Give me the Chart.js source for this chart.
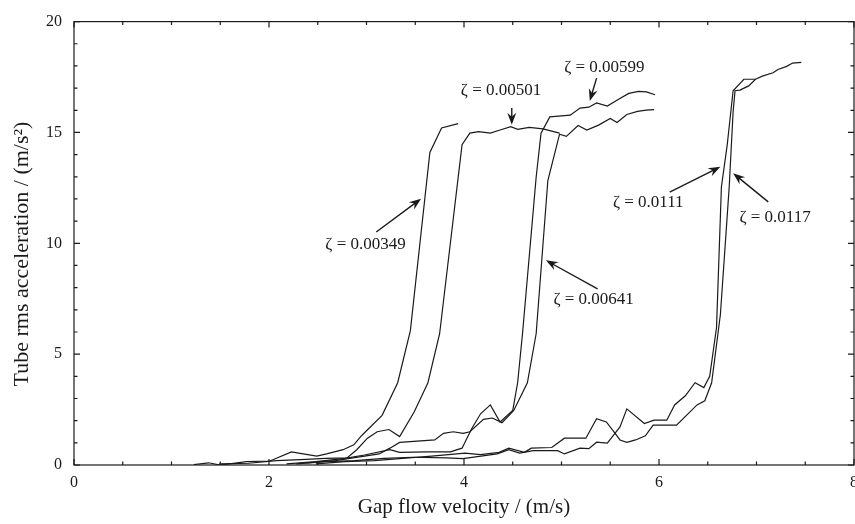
<!DOCTYPE html>
<html>
<head>
<meta charset="utf-8">
<script src="https://cdn.jsdelivr.net/npm/chart.js@4.4.1/dist/chart.umd.min.js"></script>
<style>
  body { margin: 0; background: #fff; }
  #wrap { width: 855px; height: 524px; }
</style>
</head>
<body>
<div id="wrap"><canvas id="accChart" width="855" height="524"></canvas></div>
<script>
// damping ratio of each run
const zetaLabels = ['0.00349', '0.00501', '0.00599', '0.00641', '0.0111', '0.0117'];

// gap flow velocity (m/s) and rms acceleration (m/s^2)
const velA = [1.23, 1.38, 1.50, 1.77, 2.01, 2.23, 2.35, 2.49, 2.59, 2.76, 2.87, 2.94, 2.99, 3.16, 3.32, 3.45, 3.65, 3.77, 3.94];
const accA = [0.02, 0.10, 0.00, 0.15, 0.18, 0.59, 0.50, 0.40, 0.50, 0.69, 0.91, 1.28, 1.50, 2.24, 3.71, 6.06, 14.1, 15.2, 15.4];

const velB = [1.49, 1.79, 2.08, 2.38, 2.58, 2.80, 2.90, 3.01, 3.11, 3.23, 3.34, 3.49, 3.63, 3.75, 3.98, 4.06, 4.15, 4.27, 4.37, 4.48, 4.55, 4.67, 4.81, 4.98];
const accB = [0.05, 0.08, 0.20, 0.25, 0.30, 0.32, 0.69, 1.21, 1.50, 1.60, 1.28, 2.40, 3.71, 5.92, 14.45, 14.97, 15.04, 14.97, 15.11, 15.26, 15.14, 15.23, 15.16, 14.97];

const velC = [2.18, 2.48, 2.78, 2.98, 3.24, 3.34, 3.62, 3.86, 3.98, 4.08, 4.17, 4.27, 4.37, 4.50, 4.55, 4.60, 4.74, 4.79, 4.88, 5.00, 5.09, 5.19, 5.28, 5.36, 5.47, 5.59, 5.69, 5.79, 5.87, 5.96];
const accC = [0.05, 0.15, 0.30, 0.45, 0.69, 0.57, 0.59, 0.59, 0.76, 1.65, 2.31, 2.71, 1.94, 2.46, 3.71, 5.92, 12.98, 14.97, 15.70, 15.75, 15.78, 16.10, 16.14, 16.33, 16.19, 16.51, 16.76, 16.85, 16.83, 16.70];

const velD = [2.38, 2.68, 2.98, 3.13, 3.24, 3.34, 3.52, 3.70, 3.79, 3.89, 3.99, 4.06, 4.20, 4.29, 4.39, 4.51, 4.65, 4.74, 4.86, 4.98, 5.05, 5.17, 5.26, 5.38, 5.50, 5.57, 5.67, 5.78, 5.87, 5.95];
const accD = [0.10, 0.20, 0.40, 0.50, 0.76, 1.02, 1.08, 1.13, 1.43, 1.50, 1.43, 1.50, 2.06, 2.12, 1.91, 2.46, 3.71, 5.92, 12.83, 14.92, 14.82, 15.31, 15.11, 15.33, 15.63, 15.45, 15.81, 15.95, 16.01, 16.03];

const velE = [2.28, 2.58, 2.88, 3.18, 3.47, 3.82, 3.99, 4.34, 4.46, 4.57, 4.71, 4.96, 5.03, 5.19, 5.28, 5.36, 5.47, 5.60, 5.67, 5.85, 5.95, 6.08, 6.16, 6.27, 6.37, 6.46, 6.52, 6.59, 6.64, 6.70, 6.76, 6.87, 6.99];
const accE = [0.05, 0.15, 0.20, 0.30, 0.35, 0.32, 0.29, 0.50, 0.69, 0.54, 0.65, 0.65, 0.50, 0.76, 0.74, 1.03, 0.99, 1.72, 2.53, 1.87, 2.02, 2.02, 2.71, 3.12, 3.71, 3.49, 4.00, 6.20, 12.54, 14.45, 16.88, 17.40, 17.40];

const velF = [2.48, 2.78, 3.08, 3.37, 3.67, 4.01, 4.17, 4.36, 4.46, 4.62, 4.69, 4.90, 5.03, 5.19, 5.25, 5.36, 5.46, 5.55, 5.60, 5.67, 5.76, 5.86, 5.94, 6.18, 6.39, 6.47, 6.54, 6.63, 6.72, 6.76, 6.78, 6.83, 6.92, 6.99, 7.06, 7.17, 7.22, 7.31, 7.37, 7.46];
const accF = [0.05, 0.15, 0.20, 0.30, 0.40, 0.54, 0.47, 0.57, 0.76, 0.57, 0.76, 0.79, 1.21, 1.21, 1.21, 2.09, 1.94, 1.43, 1.13, 1.02, 1.13, 1.32, 1.80, 1.80, 2.71, 2.90, 3.71, 6.80, 12.54, 15.92, 16.88, 16.91, 17.10, 17.40, 17.54, 17.69, 17.84, 17.98, 18.13, 18.16];

const xTickLabels = ['0', '2', '4', '6', '8'];
const yTickLabels = ['0', '5', '10', '15', '20'];

const ink = '#1a1a1a';
const serif = '"Liberation Serif", "Times New Roman", serif';

// label text position and arrow (tail -> head), in data units
const notes = [
  { z: 0, tx: 2.99, ty: 9.93, ax: 3.10, ay: 10.51, bx: 3.56, by: 12.01 },
  { z: 1, tx: 4.38, ty: 16.89, ax: 4.49, ay: 16.10, bx: 4.49, by: 15.35 },
  { z: 2, tx: 5.44, ty: 17.95, ax: 5.36, ay: 17.45, bx: 5.29, by: 16.42 },
  { z: 3, tx: 5.33, ty: 7.45, ax: 5.37, ay: 7.94, bx: 4.84, by: 9.23 },
  { z: 4, tx: 5.89, ty: 11.82, ax: 6.11, ay: 12.31, bx: 6.63, by: 13.45 },
  { z: 5, tx: 7.19, ty: 11.16, ax: 7.12, ay: 11.87, bx: 6.76, by: 13.16 }
];

function pts(xs, ys) {
  return xs.map((v, i) => ({ x: v, y: ys[i] }));
}

const runs = [[velA, accA], [velB, accB], [velC, accC], [velD, accD], [velE, accE], [velF, accF]];

// box round the plot with inward ticks on all four sides, plus y title
const frame = {
  id: 'frame',
  afterDraw(chart) {
    const { ctx, chartArea: a, scales: { x, y } } = chart;
    ctx.save();
    ctx.strokeStyle = ink;
    ctx.lineWidth = 1.2;
    ctx.strokeRect(a.left, a.top, a.right - a.left, a.bottom - a.top);
    ctx.beginPath();
    for (let v = 0; v <= 8; v += 0.5) {
      const px = x.getPixelForValue(v);
      const len = v % 2 === 0 ? 6 : 3.5;
      ctx.moveTo(px, a.bottom); ctx.lineTo(px, a.bottom - len);
      ctx.moveTo(px, a.top); ctx.lineTo(px, a.top + len);
    }
    for (let v = 0; v <= 20; v += 1) {
      const py = y.getPixelForValue(v);
      const len = v % 5 === 0 ? 6 : 3.5;
      ctx.moveTo(a.left, py); ctx.lineTo(a.left + len, py);
      ctx.moveTo(a.right, py); ctx.lineTo(a.right - len, py);
    }
    ctx.stroke();

    ctx.translate(22, 254);
    ctx.rotate(-Math.PI / 2);
    ctx.fillStyle = ink;
    ctx.font = '22px ' + serif;
    ctx.textAlign = 'center';
    ctx.textBaseline = 'middle';
    ctx.fillText('Tube rms acceleration / (m/s²)', 0, 0);
    ctx.restore();
  }
};

const annotate = {
  id: 'annotate',
  afterDatasetsDraw(chart) {
    const { ctx, scales: { x, y } } = chart;
    ctx.save();
    ctx.fillStyle = ink;
    ctx.strokeStyle = ink;
    ctx.font = '17px ' + serif;
    ctx.textAlign = 'center';
    ctx.textBaseline = 'middle';
    notes.forEach(n => {
      ctx.fillText('ζ = ' + zetaLabels[n.z], x.getPixelForValue(n.tx), y.getPixelForValue(n.ty));
      const x1 = x.getPixelForValue(n.ax), y1 = y.getPixelForValue(n.ay);
      const x2 = x.getPixelForValue(n.bx), y2 = y.getPixelForValue(n.by);
      const ang = Math.atan2(y2 - y1, x2 - x1);
      const c = Math.cos(ang), s = Math.sin(ang);
      ctx.lineWidth = 1.4;
      ctx.beginPath();
      ctx.moveTo(x1, y1);
      ctx.lineTo(x2 - 7 * c, y2 - 7 * s);
      ctx.stroke();
      ctx.beginPath();
      ctx.moveTo(x2, y2);
      ctx.lineTo(x2 - 12 * c + 4.5 * s, y2 - 12 * s - 4.5 * c);
      ctx.lineTo(x2 - 8 * c, y2 - 8 * s);
      ctx.lineTo(x2 - 12 * c - 4.5 * s, y2 - 12 * s + 4.5 * c);
      ctx.closePath();
      ctx.fill();
    });
    ctx.restore();
  }
};

new Chart(document.getElementById('accChart'), {
  type: 'line',
  data: {
    datasets: runs.map((r, i) => ({
      label: 'ζ = ' + zetaLabels[i],
      data: pts(r[0], r[1]),
      borderColor: ink,
      borderWidth: 1.2,
      pointRadius: 0,
      tension: 0,
      fill: false
    }))
  },
  options: {
    responsive: false,
    animation: false,
    layout: { padding: { top: 12, right: 1, left: 0, bottom: 0 } },
    plugins: { legend: { display: false }, tooltip: { enabled: false } },
    scales: {
      x: {
        type: 'linear',
        min: 0,
        max: 8,
        grid: { display: false, drawTicks: false },
        border: { display: false },
        ticks: {
          stepSize: 2,
          padding: 8,
          color: ink,
          font: { family: serif, size: 16 },
          callback: v => xTickLabels[v / 2]
        },
        title: {
          display: true,
          text: 'Gap flow velocity / (m/s)',
          color: ink,
          font: { family: serif, size: 21 },
          padding: { top: 0, bottom: 4 }
        },
        afterFit(scale) {
          scale.height = 59;
          scale.paddingLeft = 0;
          scale.paddingRight = 0;
        }
      },
      y: {
        min: 0,
        max: 20,
        grid: { display: false, drawTicks: false },
        border: { display: false },
        ticks: {
          stepSize: 5,
          padding: 12,
          color: ink,
          font: { family: serif, size: 16 },
          callback: v => yTickLabels[v / 5]
        },
        afterFit(scale) {
          scale.width = 74;
        }
      }
    }
  },
  plugins: [annotate, frame]
});
</script>
</body>
</html>
